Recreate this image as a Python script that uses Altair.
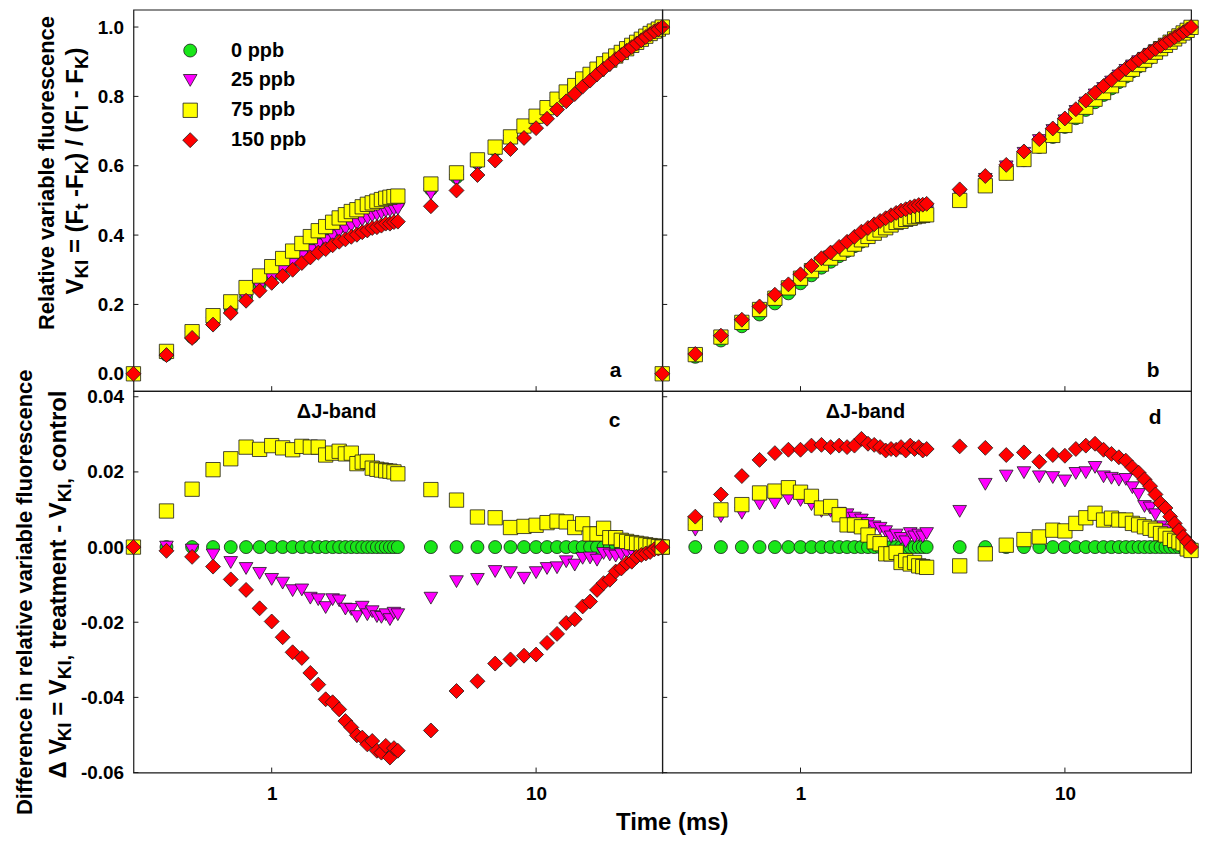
import altair as alt
import pandas as pd

FONT = "Liberation Sans"

# ---------------- data ----------------
TIME = [0.3, 0.4, 0.5, 0.6, 0.7, 0.8, 0.9, 1.0, 1.1, 1.2, 1.3, 1.4, 1.5, 1.6, 1.7,
        1.8, 1.9, 2.0, 2.1, 2.2, 2.3, 2.4, 2.5, 2.6, 2.7, 2.8, 2.9, 3.0,
        4, 5, 6, 7, 8, 9, 10, 11, 12, 13, 14, 15, 16, 17, 18, 19, 20, 21, 22,
        23, 24, 25, 26, 27, 28, 29, 30]

SERIES = ["0 ppb", "25 ppb", "75 ppb", "150 ppb"]
COLORS = ["#19e619", "#ff00ff", "#ffff00", "#ff0000"]
SHAPES = ["circle", "triangle-down", "square", "diamond"]
SIZES = [169, 225, 169, 256]

# control (0 ppb) V_KI curves, panels a and b
CTRL_A = [0.000, 0.055, 0.106, 0.147, 0.184, 0.222, 0.256, 0.282, 0.306, 0.328,
          0.349, 0.369, 0.386, 0.400, 0.412, 0.424, 0.434, 0.443, 0.451, 0.459,
          0.466, 0.472, 0.477, 0.482, 0.486, 0.489, 0.491, 0.493,
          0.532, 0.567, 0.609, 0.646, 0.678, 0.709, 0.737, 0.761, 0.785, 0.806,
          0.826, 0.844, 0.860, 0.875, 0.889, 0.902, 0.914, 0.925, 0.936, 0.946,
          0.955, 0.964, 0.973, 0.981, 0.988, 0.994, 1.000]
CTRL_B = [0.000, 0.049, 0.096, 0.137, 0.171, 0.203, 0.232, 0.261, 0.284, 0.306,
          0.323, 0.339, 0.354, 0.368, 0.381, 0.393, 0.404, 0.414, 0.423, 0.431,
          0.438, 0.444, 0.449, 0.453, 0.457, 0.460, 0.462, 0.464,
          0.505, 0.544, 0.578, 0.616, 0.654, 0.683, 0.712, 0.737, 0.761, 0.783,
          0.804, 0.823, 0.841, 0.857, 0.872, 0.886, 0.899, 0.911, 0.923, 0.934,
          0.944, 0.954, 0.964, 0.973, 0.982, 0.991, 1.000]

# Delta V_KI (treatment - control), panel c
DV0 = [0.0] * len(TIME)
DV25_C = [0, 0.0000, -0.0008, -0.0021, -0.0041, -0.0057, -0.0070, -0.0086, -0.0096, -0.0116,
          -0.0114, -0.0136, -0.0140, -0.0161, -0.0140, -0.0143, -0.0165, -0.0166, -0.0185, -0.0160,
          -0.0180, -0.0172, -0.0185, -0.0187, -0.0180, -0.0193, -0.0176, -0.0180,
          -0.0136, -0.0092, -0.0086, -0.0065, -0.0068, -0.0083, -0.0068, -0.0057, -0.0055, -0.0039,
          -0.0048, -0.0030, -0.0029, -0.0035, -0.0017, -0.0021, -0.0024, -0.0020, -0.0015, -0.0012,
          -0.0010, -0.0008, -0.0006, -0.0005, -0.0003, -0.0002, 0.0000]
DV75_C = [0, 0.0096, 0.0154, 0.0206, 0.0235, 0.0266, 0.0260, 0.0270, 0.0264, 0.0259,
          0.0268, 0.0266, 0.0266, 0.0245, 0.0250, 0.0255, 0.0248, 0.0250, 0.0222, 0.0226,
          0.0228, 0.0210, 0.0207, 0.0205, 0.0203, 0.0202, 0.0200, 0.0195,
          0.0153, 0.0125, 0.0080, 0.0078, 0.0052, 0.0055, 0.0058, 0.0065, 0.0069, 0.0067,
          0.0052, 0.0062, 0.0035, 0.0035, 0.0050, 0.0025, 0.0025, 0.0018, 0.0015, 0.0012,
          0.0010, 0.0008, 0.0006, 0.0004, 0.0003, 0.0001, 0.0000]
DV150_C = [0, -0.0010, -0.0026, -0.0052, -0.0086, -0.0114, -0.0163, -0.0198, -0.0240, -0.0280,
           -0.0295, -0.0335, -0.0366, -0.0405, -0.0413, -0.0432, -0.0463, -0.0480, -0.0501, -0.0507,
           -0.0525, -0.0516, -0.0542, -0.0547, -0.0529, -0.0560, -0.0535, -0.0542,
           -0.0488, -0.0383, -0.0357, -0.0310, -0.0299, -0.0289, -0.0286, -0.0255, -0.0231, -0.0202,
           -0.0192, -0.0158, -0.0145, -0.0114, -0.0096, -0.0087, -0.0065, -0.0057, -0.0043, -0.0039,
           -0.0026, -0.0021, -0.0017, -0.0013, -0.0006, -0.0004, 0.0000]

# Delta V_KI, panel d
DV25_D = [0, 0.0045, 0.0081, 0.0090, 0.0115, 0.0117, 0.0128, 0.0124, 0.0113, 0.0095,
          0.0095, 0.0090, 0.0086, 0.0077, 0.0072, 0.0063, 0.0054, 0.0050, 0.0041, 0.0027,
          0.0032, 0.0023, 0.0014, 0.0036, 0.0027, 0.0032, 0.0027, 0.0036,
          0.0095, 0.0167, 0.0189, 0.0198, 0.0187, 0.0185, 0.0176, 0.0196, 0.0198, 0.0212,
          0.0187, 0.0183, 0.0178, 0.0180, 0.0158, 0.0140, 0.0108, 0.0104, 0.0086, 0.0054,
          0.0045, 0.0032, 0.0023, 0.0009, 0.0000, -0.0010, -0.0010]
DV75_D = [0, 0.0063, 0.0099, 0.0113, 0.0144, 0.0149, 0.0158, 0.0146, 0.0135, 0.0104,
          0.0108, 0.0086, 0.0059, 0.0059, 0.0054, 0.0032, 0.0014, 0.0009, -0.0018, -0.0018,
          -0.0014, -0.0041, -0.0036, -0.0045, -0.0041, -0.0050, -0.0052, -0.0054,
          -0.0050, -0.0018, 0.0005, 0.0020, 0.0027, 0.0045, 0.0043, 0.0063, 0.0078, 0.0090,
          0.0072, 0.0077, 0.0072, 0.0072, 0.0063, 0.0059, 0.0054, 0.0050, 0.0045, 0.0036,
          0.0032, 0.0023, 0.0018, 0.0014, 0.0009, -0.0005, -0.0009]
DV150_D = [0, 0.0081, 0.0140, 0.0189, 0.0232, 0.0250, 0.0259, 0.0259, 0.0270, 0.0272,
           0.0266, 0.0270, 0.0266, 0.0270, 0.0288, 0.0275, 0.0272, 0.0266, 0.0257, 0.0261,
           0.0259, 0.0266, 0.0257, 0.0270, 0.0261, 0.0266, 0.0257, 0.0261,
           0.0268, 0.0264, 0.0245, 0.0252, 0.0227, 0.0245, 0.0243, 0.0261, 0.0270, 0.0275,
           0.0259, 0.0248, 0.0239, 0.0230, 0.0212, 0.0198, 0.0180, 0.0162, 0.0140, 0.0117,
           0.0104, 0.0081, 0.0063, 0.0045, 0.0027, 0.0014, 0.0000]

TOP_TICKS = [0.0, 0.2, 0.4, 0.6, 0.8, 1.0]
BOT_TICKS = [-0.06, -0.04, -0.02, 0.0, 0.02, 0.04]
X_TICKS = [1, 10]

# treatment V_KI in panels a/b = control + Delta V_KI (the relation given on the axis label)
def add(ctrl, dv):
    return [c + d for c, d in zip(ctrl, dv)]

A_VALUES = [CTRL_A, add(CTRL_A, DV25_C), add(CTRL_A, DV75_C), add(CTRL_A, DV150_C)]
B_VALUES = [CTRL_B, add(CTRL_B, DV25_D), add(CTRL_B, DV75_D), add(CTRL_B, DV150_D)]
C_VALUES = [DV0, DV25_C, DV75_C, DV150_C]
D_VALUES = [DV0, DV25_D, DV75_D, DV150_D]


def make_df(values):
    rows = []
    for s, vals in zip(SERIES, values):
        for t, v in zip(TIME, vals):
            rows.append({"t": t, "v": v, "series": s})
    return pd.DataFrame(rows)


W, H = 531, 383
INK = "#1a1a1a"
XS = alt.Scale(type="log", domain=[0.3, 30], nice=False)

# Arial/Liberation Sans Bold advance widths (per 1000 em) for segment placement
AW = {" ": 278, "(": 333, ")": 333, ",": 278, "-": 333, "/": 278, "=": 584, "F": 611,
      "I": 278, "K": 722, "V": 667, "t": 333, "\u0394": 612, "a": 556, "c": 556,
      "e": 556, "l": 278, "m": 889, "n": 611, "o": 611, "r": 389}


def tw(s, fs):
    return sum(AW.get(ch, 556) for ch in s) * fs / 1000.0


def text_layer(txt, x, y, fs, angle=0, align="center", baseline="middle"):
    return alt.Chart(pd.DataFrame({"s": [txt]})).mark_text(
        font=FONT, fontSize=fs, fontWeight="bold", color="black",
        align=align, baseline=baseline, angle=angle
    ).encode(text="s:N", x=alt.value(x), y=alt.value(y))


def rotated_line(segments, x_base, y_start, main_fs, sub_fs, sub_dx):
    layers = []
    pos = y_start
    for txt, is_sub in segments:
        fs = sub_fs if is_sub else main_fs
        core = txt.strip(" ")
        lead = len(txt) - len(txt.lstrip(" "))
        trail = len(txt) - len(txt.rstrip(" "))
        pos -= lead * AW[" "] * fs / 1000.0
        layers.append(text_layer(core, x_base + (sub_dx if is_sub else 0), pos, fs,
                                 angle=270, align="left", baseline="alphabetic"))
        pos -= tw(core, fs)
        pos -= trail * AW[" "] * fs / 1000.0
    return layers


def panel(values, ydom, yticks, yfmt, ylabels, xlabels, legend, texts):
    df = make_df(values)
    ys = alt.Scale(domain=ydom, nice=False, zero=False)
    if xlabels:
        xaxis = alt.Axis(values=X_TICKS, labelExpr="datum.value", ticks=False, domain=False,
                         grid=False, labelFont=FONT, labelFontSize=19, labelFontWeight="bold",
                         labelColor="black", labelPadding=12, title=None, labelFlush=False)
    else:
        xaxis = None
    if ylabels:
        yaxis = alt.Axis(values=yticks,
                         labelExpr="replace(format(datum.value, '" + yfmt + "'), '\u2212', '-')",
                         ticks=False, domain=False, grid=False, labelFont=FONT,
                         labelFontSize=19, labelFontWeight="bold", labelColor="black",
                         labelPadding=10, title=None, labelFlush=False)
    else:
        yaxis = None

    ytick_layer = alt.Chart(pd.DataFrame({"v": yticks})).mark_rule(
        color=INK, strokeWidth=1).encode(
        y=alt.Y("v:Q", scale=ys, axis=yaxis), x=alt.value(0), x2=alt.value(5))
    xtick_layer = alt.Chart(pd.DataFrame({"t": X_TICKS})).mark_rule(
        color=INK, strokeWidth=1).encode(
        x=alt.X("t:Q", scale=XS, axis=xaxis), y=alt.value(H - 5), y2=alt.value(H))

    pts = alt.Chart(df).mark_point(filled=True, opacity=1, stroke=INK, strokeWidth=0.8).encode(
        x=alt.X("t:Q", scale=XS, axis=xaxis),
        y=alt.Y("v:Q", scale=ys, axis=yaxis),
        color=alt.Color("series:N", scale=alt.Scale(domain=SERIES, range=COLORS), legend=legend),
        shape=alt.Shape("series:N", scale=alt.Scale(domain=SERIES, range=SHAPES), legend=legend),
        size=alt.Size("series:N", scale=alt.Scale(domain=SERIES, range=SIZES), legend=legend),
    )
    return alt.layer(ytick_layer, xtick_layer, pts, *texts).properties(width=W, height=H)


LEGEND = alt.Legend(orient="none", legendX=47, legendY=31, title=None, labelFont=FONT,
                    labelFontSize=20, labelFontWeight="bold", labelColor="black",
                    labelOffset=31, rowPadding=10, symbolStrokeColor=INK,
                    symbolStrokeWidth=0.8, padding=0)

TOP_DOM = [-0.05, 1.05]
BOT_DOM = [-0.06, 0.0415]

# annotations
a_texts = [text_layer("a", 484, 363, 21),
           text_layer("Relative variable fluorescence", -80, 164, 22, angle=270,
                      align="center", baseline="alphabetic")]
a_texts += rotated_line([("V", False), ("KI", True), (" = (F", False), ("t", True),
                         (" -F", False), ("K", True), (") / (F", False), ("I", True),
                         (" - F", False), ("K", True), (")", False)],
                        -51, 286, 24, 19, 5)

b_texts = [text_layer("b", 493, 363, 21)]

c_texts = [text_layer("c", 483, 30, 21),
           text_layer("\u0394J-band", 204, 21, 20),
           text_layer("Difference in relative variable fluorescence", -102, 202, 22,
                      angle=270, align="center", baseline="alphabetic"),
           text_layer("Time (ms)", 541, 434, 24)]
c_texts += rotated_line([("\u0394 V", False), ("KI", True), (" = V", False), ("KI,", True),
                         (" treatment - V", False), ("KI,", True), (" control", False)],
                        -68, 389, 24, 19, 5)

d_texts = [text_layer("d", 495, 27, 21),
           text_layer("\u0394J-band", 204, 21, 20)]

pa = panel(A_VALUES, TOP_DOM, TOP_TICKS, ".1f", True, False, LEGEND, a_texts)
pb = panel(B_VALUES, TOP_DOM, TOP_TICKS, ".1f", False, False, None, b_texts)
pc = panel(C_VALUES, BOT_DOM, BOT_TICKS, ".2f", True, True, None, c_texts)
pd_ = panel(D_VALUES, BOT_DOM, BOT_TICKS, ".2f", False, True, None, d_texts)

chart = alt.concat(pa, pb, pc, pd_, columns=2, spacing=0, bounds="flush").resolve_scale(
    color="independent", shape="independent", size="independent"
).properties(
    padding={"left": 13, "top": 7, "right": 5, "bottom": 5},
    background="white",
).configure_view(stroke=INK, strokeWidth=1.2)

chart.save("out.html", embed_options={"renderer": "svg", "actions": False})
